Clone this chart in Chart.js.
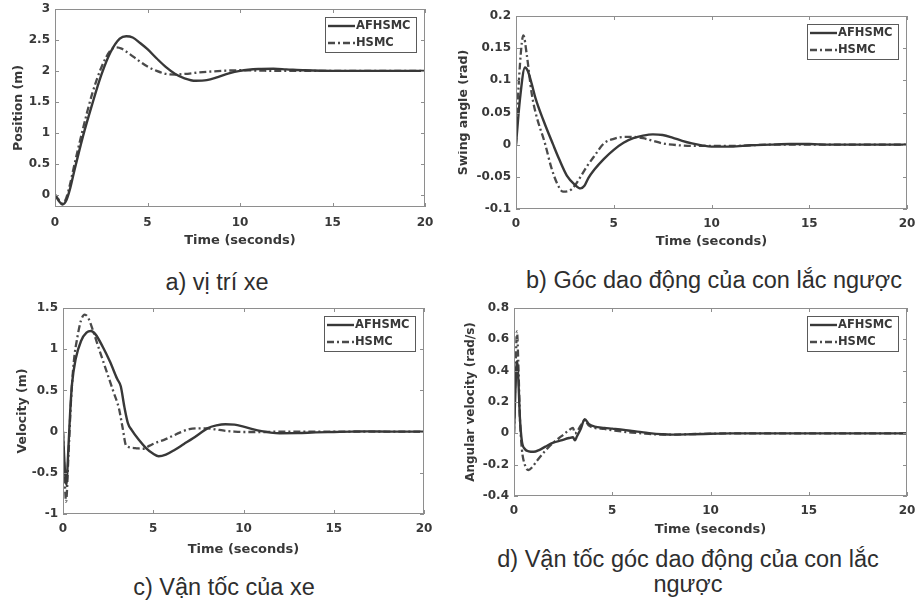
<!DOCTYPE html>
<html><head><meta charset="utf-8">
<script src="https://cdn.jsdelivr.net/npm/chart.js@4.4.0/dist/chart.umd.min.js"></script>
<style>
html,body{margin:0;padding:0;background:#fff;}
body{width:916px;height:605px;position:relative;overflow:hidden;}
canvas{position:absolute;}
.cap{position:absolute;font-family:"Liberation Sans",Arial,sans-serif;font-size:23.5px;line-height:25px;color:#2e2e2e;text-align:center;white-space:nowrap;transform:translateX(-50%);}
</style></head><body>
<canvas id="ca"></canvas><canvas id="cb"></canvas><canvas id="cc"></canvas><canvas id="cd"></canvas>
<div class="cap" style="left:217px;top:270px;">a) vị trí xe</div>
<div class="cap" style="left:714px;top:268px;">b) Góc dao động của con lắc ngược</div>
<div class="cap" style="left:224px;top:575px;">c) Vận tốc của xe</div>
<div class="cap" style="left:688px;top:547px;">d) Vận tốc góc dao động của con lắc<br>ngược</div>
<script>
// ---- shared ----
const seriesNames = ['AFHSMC', 'HSMC'];
const xTicks = [0, 5, 10, 15, 20];
const xTitle = 'Time (seconds)';

// ---- a) position ----
const posT_AF = [0,0.2,0.4,0.6,0.8,1.0,1.5,2.0,2.5,3.0,3.5,3.85,4.2,4.6,5.0,5.5,6.0,6.5,7.0,7.6,8.2,8.8,9.4,10,11,11.8,12.5,13.5,15,17,20];
const pos_AF  = [0,-0.1,-0.16,-0.1,0.08,0.33,0.93,1.45,1.93,2.3,2.52,2.56,2.54,2.45,2.35,2.2,2.06,1.95,1.88,1.84,1.85,1.9,1.96,2.0,2.03,2.035,2.025,2.01,2.0,2.0,2.0];
const posT_HS = [0,0.2,0.4,0.6,0.8,1.0,1.5,2.0,2.5,3.0,3.3,3.6,4.0,4.5,5.0,5.5,6.0,6.5,7.0,8.0,9.0,10,11,12,15,20];
const pos_HS  = [0,-0.08,-0.14,-0.06,0.15,0.42,1.05,1.62,2.05,2.33,2.38,2.36,2.28,2.17,2.07,2.0,1.95,1.94,1.95,1.98,2.0,2.01,2.005,2.0,2.0,2.0];
const posTicks = [0, 0.5, 1, 1.5, 2, 2.5, 3];

// ---- b) swing angle ----
const angT_AF = [0,0.2,0.46,0.6,0.8,1.0,1.4,1.9,2.2,2.6,3.0,3.3,3.5,3.7,4.0,4.5,5.0,5.5,6.0,6.5,7.0,7.5,8.0,8.5,9.0,9.5,10,11,12,13,14,15,16,20];
const ang_AF  = [0,0.07,0.12,0.115,0.095,0.072,0.038,0.0,-0.022,-0.048,-0.062,-0.068,-0.064,-0.052,-0.039,-0.022,-0.008,0.003,0.01,0.014,0.016,0.015,0.011,0.006,0.002,-0.001,-0.003,-0.003,-0.001,0,0.001,0.001,0,0];
const angT_HS = [0,0.15,0.38,0.55,0.8,1.0,1.5,1.8,2.1,2.4,2.7,3.0,3.3,3.6,4.0,4.5,5.0,5.5,6.0,6.5,7.0,7.5,8.0,9.0,10,11,12,13,20];
const ang_HS  = [0,0.1,0.17,0.14,0.08,0.05,0.0,-0.035,-0.06,-0.073,-0.072,-0.064,-0.05,-0.035,-0.018,0.002,0.009,0.012,0.012,0.01,0.006,0.002,0.0,-0.002,-0.002,-0.002,-0.001,0,0];
const angTicks = [-0.1, -0.05, 0, 0.05, 0.1, 0.15, 0.2];

// ---- c) velocity ----
const velT_AF = [0,0.1,0.18,0.3,0.4,0.5,0.7,1.0,1.3,1.55,1.8,2.2,2.6,3.0,3.2,3.4,3.6,3.8,4.2,4.6,5.0,5.3,5.7,6.2,6.7,7.2,7.6,8.0,8.5,9.0,9.5,10,10.5,11,11.5,12,13,14,15,16,17,18,20];
const vel_AF  = [0,-0.45,-0.65,-0.2,0.25,0.58,0.88,1.1,1.2,1.22,1.18,1.03,0.85,0.64,0.55,0.3,0.1,0.02,-0.1,-0.2,-0.27,-0.3,-0.28,-0.22,-0.15,-0.08,-0.02,0.04,0.075,0.09,0.085,0.06,0.03,0.005,-0.012,-0.02,-0.018,-0.01,-0.005,0,0.003,0,0];
const velT_HS = [0,0.1,0.17,0.3,0.45,0.6,0.8,1.0,1.2,1.4,1.7,2.0,2.4,2.8,3.1,3.3,3.5,4.0,4.4,4.8,5.2,5.6,6.0,6.5,7.0,7.5,8.0,8.5,9.0,9.5,10,11,12,20];
const vel_HS  = [0,-0.6,-0.85,-0.3,0.4,0.85,1.15,1.35,1.42,1.38,1.2,1.0,0.74,0.48,0.28,0.05,-0.17,-0.2,-0.21,-0.17,-0.13,-0.1,-0.06,-0.01,0.03,0.04,0.04,0.025,0.01,0.0,-0.005,-0.005,0,0];
const velTicks = [-1, -0.5, 0, 0.5, 1, 1.5];

// ---- d) angular velocity ----
const avT_AF = [0,0.08,0.15,0.22,0.3,0.4,0.55,0.75,1.0,1.3,1.6,2.0,2.4,2.8,3.0,3.1,3.2,3.4,3.6,3.8,4.1,4.6,5.0,5.6,6.0,6.5,7.0,7.5,8.0,9.0,10,11,20];
const av_AF  = [0,0.3,0.46,0.35,0.1,-0.05,-0.1,-0.115,-0.118,-0.105,-0.085,-0.06,-0.045,-0.03,-0.025,-0.045,-0.02,0.03,0.09,0.06,0.043,0.035,0.03,0.022,0.015,0.008,0,-0.005,-0.008,-0.006,-0.003,0,0];
const avT_HS = [0,0.08,0.15,0.22,0.3,0.4,0.55,0.73,0.9,1.2,1.6,2.0,2.4,2.8,3.0,3.1,3.2,3.4,3.6,3.8,4.1,4.6,5.0,5.6,6.0,6.5,7.0,7.5,8.0,9.0,10,11,20];
const av_HS  = [0,0.4,0.65,0.45,0.1,-0.1,-0.2,-0.234,-0.22,-0.17,-0.11,-0.06,-0.02,0.02,0.035,0.0,0.01,0.05,0.085,0.05,0.035,0.028,0.02,0.01,0.005,0,-0.005,-0.008,-0.008,-0.005,-0.002,0,0];
const avTicks = [-0.4, -0.2, 0, 0.2, 0.4, 0.6, 0.8];

// ---- styling ----
const TXT = '#383838';
const FONT = 'DejaVu Sans';
const COL_AF = '#383838', COL_HS = '#4a4a4a';
const DASH_HS = [7, 3, 2, 3];

const pts = (t, v) => t.map((x, i) => ({x, y: v[i]}));

const boxPlugin = {
  id: 'matlabBox',
  afterDatasetsDraw(chart) {
    const {ctx, chartArea: a, scales: {x, y}} = chart;
    ctx.save();
    ctx.strokeStyle = '#8e8e8e';
    ctx.lineWidth = 1;
    ctx.setLineDash([]);
    ctx.strokeRect(Math.round(a.left) + 0.5, Math.round(a.top) + 0.5, Math.round(a.right - a.left) - 1, Math.round(a.bottom - a.top) - 1);
    ctx.beginPath();
    const L = 4;
    x.ticks.forEach(t => {
      const p = Math.round(x.getPixelForValue(t.value)) + 0.5;
      ctx.moveTo(p, a.bottom); ctx.lineTo(p, a.bottom - L);
      ctx.moveTo(p, a.top); ctx.lineTo(p, a.top + L);
    });
    y.ticks.forEach(t => {
      const p = Math.round(y.getPixelForValue(t.value)) + 0.5;
      ctx.moveTo(a.left, p); ctx.lineTo(a.left + L, p);
      ctx.moveTo(a.right, p); ctx.lineTo(a.right - L, p);
    });
    ctx.stroke();
    // legend box
    const bw = 91, bh = 35, bx = Math.round(a.right) - 9 - bw, by = Math.round(a.top) + 8;
    ctx.fillStyle = '#fff';
    ctx.fillRect(bx, by, bw, bh);
    ctx.strokeStyle = '#5a5a5a';
    ctx.strokeRect(bx + 0.5, by + 0.5, bw, bh);
    ctx.font = 'bold 11.5px "' + FONT + '"';
    ctx.textBaseline = 'middle';
    ctx.fillStyle = TXT;
    chart.data.datasets.forEach((ds, i) => {
      const yy = by + 9 + i * 17;
      ctx.beginPath();
      ctx.strokeStyle = ds.borderColor;
      ctx.lineWidth = ds.borderWidth;
      ctx.setLineDash(ds.borderDash || []);
      ctx.moveTo(bx + 3, yy); ctx.lineTo(bx + 30, yy);
      ctx.stroke();
      ctx.setLineDash([]);
      ctx.fillText(ds.label, bx + 31, yy + 0.5);
    });
    ctx.restore();
  }
};

function makePanel(id, c) {
  const cv = document.getElementById(id);
  cv.width = c.W; cv.height = c.H;
  cv.style.left = c.left + 'px'; cv.style.top = c.top + 'px';
  cv.style.width = c.W + 'px'; cv.style.height = c.H + 'px';
  const pl = c.plot[0] - c.left, pt = c.plot[1] - c.top, pr = c.plot[2] - c.left, pb = c.plot[3] - c.top;
  const yLH = c.yTitleSize * 1.2, xLH = 13 * 1.2;
  const padLeft = (c.yTitleX - c.left) - yLH / 2;
  const padBottom = c.H - (c.xTitleY - c.top) - xLH / 2;
  const yWidth = pl - padLeft;
  const xHeight = c.H - padBottom - pb;
  const tickFont = {family: FONT, weight: 'bold', size: 12};
  new Chart(cv, {
    type: 'line',
    data: {datasets: [
      {label: seriesNames[0], data: pts(c.tAF, c.vAF), borderColor: COL_AF, borderWidth: 2.4, pointRadius: 0, fill: false, cubicInterpolationMode: 'monotone'},
      {label: seriesNames[1], data: pts(c.tHS, c.vHS), borderColor: COL_HS, borderWidth: 2.3, borderDash: DASH_HS, pointRadius: 0, fill: false, cubicInterpolationMode: 'monotone'}
    ]},
    options: {
      responsive: false, animation: false, devicePixelRatio: 1,
      layout: {padding: {left: padLeft, top: pt, right: c.W - pr, bottom: padBottom}},
      plugins: {legend: {display: false}, tooltip: {enabled: false}},
      scales: {
        x: {
          type: 'linear', min: 0, max: 20,
          afterBuildTicks: s => { s.ticks = xTicks.map(v => ({value: v})); },
          afterFit: s => { s.height = xHeight; s.paddingLeft = 0; s.paddingRight = 0; },
          ticks: {padding: c.xTickPad, color: TXT, font: tickFont, maxRotation: 0, autoSkip: false, callback: v => String(v)},
          grid: {display: false, drawTicks: false},
          border: {display: false},
          title: {display: true, text: xTitle, color: TXT, font: {family: FONT, weight: 'bold', size: 13}, padding: 0}
        },
        y: {
          type: 'linear', min: c.yMin, max: c.yMax,
          afterBuildTicks: s => { s.ticks = c.yTicks.map(v => ({value: v})); },
          afterFit: s => { s.width = yWidth; s.paddingTop = 0; s.paddingBottom = 0; },
          ticks: {padding: 5, color: TXT, font: tickFont, autoSkip: false, callback: v => String(v)},
          grid: {display: false, drawTicks: false},
          border: {display: false},
          title: {display: true, text: c.yTitle, color: TXT, font: {family: FONT, weight: 'bold', size: c.yTitleSize}, padding: 0}
        }
      }
    },
    plugins: [boxPlugin]
  });
}

makePanel('ca', {left: 0, top: 0, W: 458, H: 265, plot: [55, 9, 425, 207], yTitleX: 19, xTitleY: 241, xTickPad: 9,
  yMin: -0.2, yMax: 3, yTicks: posTicks, yTitle: 'Position (m)', yTitleSize: 12.5,
  tAF: posT_AF, vAF: pos_AF, tHS: posT_HS, vHS: pos_HS});
makePanel('cb', {left: 458, top: 0, W: 458, H: 265, plot: [516, 16, 907, 209], yTitleX: 464, xTitleY: 242, xTickPad: 8,
  yMin: -0.1, yMax: 0.2, yTicks: angTicks, yTitle: 'Swing angle (rad)', yTitleSize: 12.5,
  tAF: angT_AF, vAF: ang_AF, tHS: angT_HS, vHS: ang_HS});
makePanel('cc', {left: 0, top: 295, W: 458, H: 270, plot: [63, 308, 424, 514], yTitleX: 23, xTitleY: 550, xTickPad: 8,
  yMin: -1, yMax: 1.5, yTicks: velTicks, yTitle: 'Velocity (m)', yTitleSize: 12.5,
  tAF: velT_AF, vAF: vel_AF, tHS: velT_HS, vHS: vel_HS});
makePanel('cd', {left: 458, top: 295, W: 458, H: 250, plot: [514, 308, 907, 496], yTitleX: 471, xTitleY: 530, xTickPad: 8,
  yMin: -0.4, yMax: 0.8, yTicks: avTicks, yTitle: 'Angular velocity (rad/s)', yTitleSize: 12,
  tAF: avT_AF, vAF: av_AF, tHS: avT_HS, vHS: av_HS});
</script>
</body></html>
